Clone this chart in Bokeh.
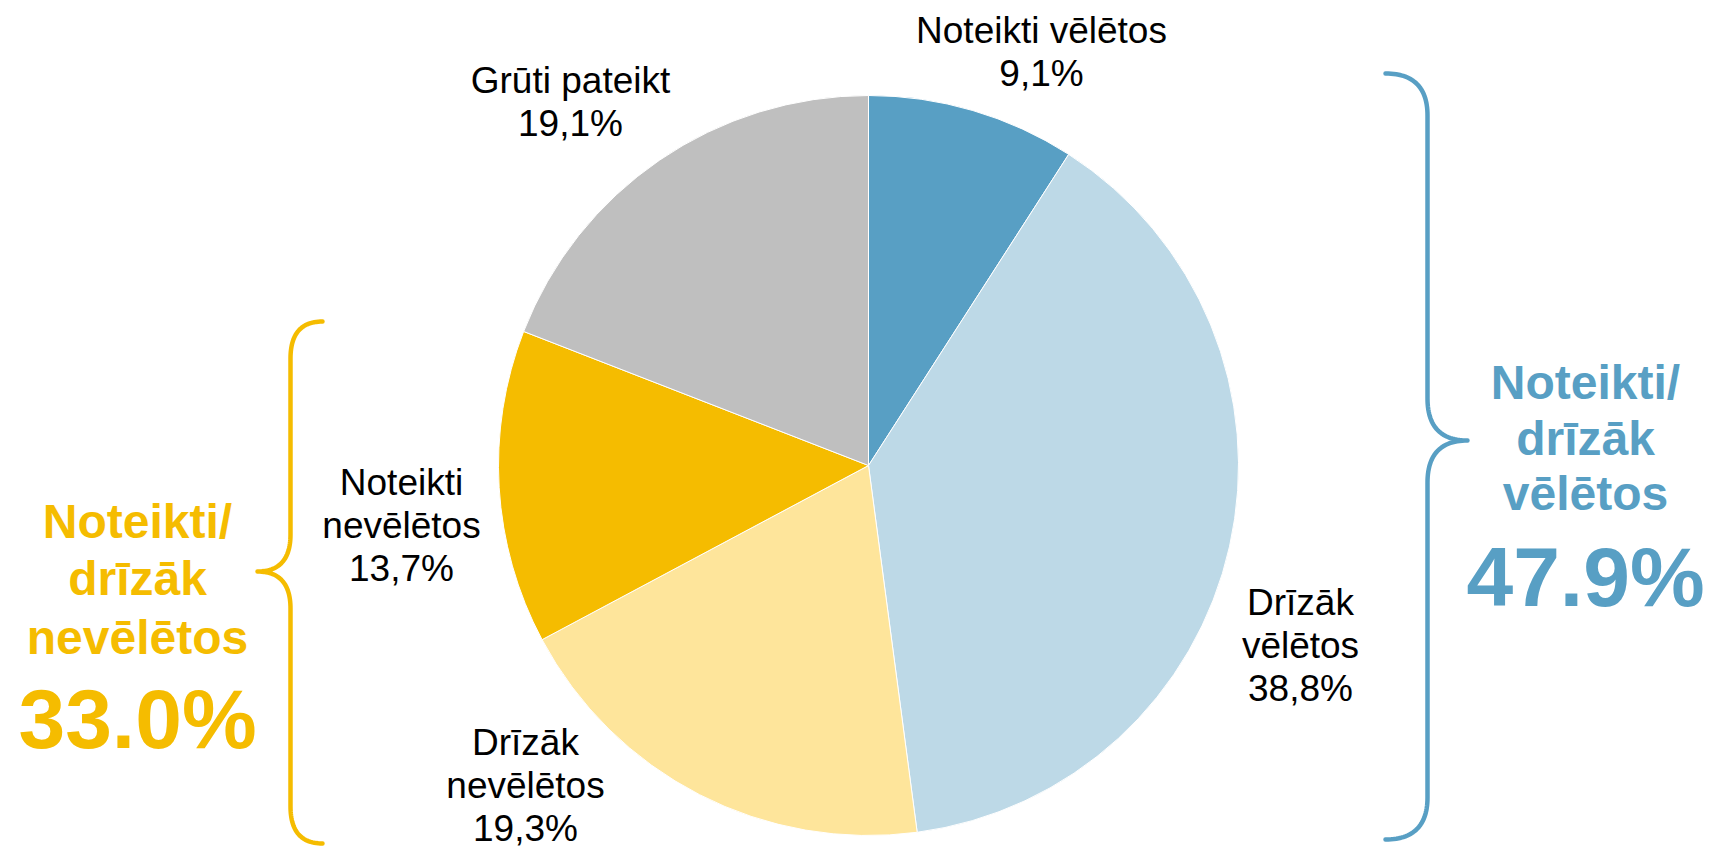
import numpy as np
from bokeh.plotting import figure
from bokeh.models import Range1d, ColumnDataSource
from bokeh.core.properties import value
from bokeh.embed import file_html
from bokeh.resources import INLINE

# ---------------- data ----------------
categories = ["Noteikti vēlētos", "Drīzāk vēlētos", "Drīzāk nevēlētos",
              "Noteikti nevēlētos", "Grūti pateikt"]
values = [9.1, 38.8, 19.3, 13.7, 19.1]
group_want = [0, 1]        # Noteikti/drīzāk vēlētos
group_notwant = [2, 3]     # Noteikti/drīzāk nevēlētos
group_want_title = ["Noteikti/", "drīzāk", "vēlētos"]
group_notwant_title = ["Noteikti/", "drīzāk", "nevēlētos"]

# ---------------- style / layout ----------------
slice_colors = ["#589FC4", "#BDD9E7", "#FEE59B", "#F5BC00", "#BFBFBF"]
BLUE = "#589FC4"
GOLD = "#F5BC00"
FONT = "Liberation Sans"
W, H = 1711, 846
SH = 846  # screen height for coordinate mapping
BL = 0.34  # baseline correction (fraction of font size)


def sy(y):
    return SH - y


p = figure(width=W, height=H, output_backend="svg", toolbar_location=None,
           x_range=Range1d(0, W), y_range=Range1d(sy(H), sy(0)),
           x_axis_type=None, y_axis_type=None, min_border=0,
           outline_line_color=None, background_fill_color="white",
           border_fill_color="white")
p.grid.visible = False

# pie
tot = sum(values)
cum = np.concatenate([[0], np.cumsum(values)]) / tot
starts = np.pi / 2 - cum[:-1] * 2 * np.pi
ends = np.pi / 2 - cum[1:] * 2 * np.pi
src = ColumnDataSource(dict(start=starts, end=ends, color=slice_colors, cat=categories))
CX, CY, R = 868, 465, 370
p.wedge(x=CX, y=sy(CY), radius=R, start_angle="start", end_angle="end",
        direction="clock", fill_color="color", line_color="white", line_width=1,
        source=src)

# slice labels
F1 = 37
label_wrap = [False, True, True, True, False]
label_pos = [(1041, 43), (1300, 615), (525, 755), (401, 495), (570, 93)]
LS = 43
tx, ty, tt = [], [], []
for cat, v, wrap, (x0, y0) in zip(categories, values, label_wrap, label_pos):
    lines = cat.split(" ") if wrap else [cat]
    lines = lines + [f"{v:.1f}".replace(".", ",") + "%"]
    for i, ln in enumerate(lines):
        tx.append(x0)
        ty.append(sy(y0 + i * LS - BL * F1))
        tt.append(ln)
p.text(x=tx, y=ty, text=tt, text_font=value(FONT), text_font_size=value(f"{F1}px"),
       text_align="center", text_baseline="alphabetic", text_color="#000000")


# group labels
F2, F3 = 48, 84


def group_text(title, idx, x0, baselines, color):
    total = sum(values[i] for i in idx)
    p.text(x=[x0] * len(title), y=[sy(b - BL * F2) for b in baselines[:len(title)]],
           text=title, text_font=value(FONT), text_font_size=value(f"{F2}px"),
           text_font_style="bold", text_align="center", text_baseline="alphabetic",
           text_color=color)
    p.text(x=[x0], y=[sy(baselines[-1] - BL * F3)], text=[f"{total:.1f}%"],
           text_font=value(FONT), text_font_size=value(f"{F3}px"), text_font_style="bold",
           text_align="center", text_baseline="alphabetic", text_color=color)


group_text(group_want_title, group_want, 1585, [398, 454, 509, 605], BLUE)
group_text(group_notwant_title, group_notwant, 137, [537, 594, 653, 747], GOLD)


# braces
def qbez(p0, c, p1, n=30):
    t = np.linspace(0, 1, n)[:, None]
    P0, C, P1 = np.array(p0), np.array(c), np.array(p1)
    return (1 - t) ** 2 * P0 + 2 * (1 - t) * t * C + t ** 2 * P1


def brace(xe, xv, xt, ytop, ytip, ybot, rr, color):
    segs = [
        qbez((xe, ytop), (xv, ytop), (xv, ytop + rr)),
        np.array([[xv, ytop + rr], [xv, ytip - rr]]),
        qbez((xv, ytip - rr), (xv, ytip), (xt, ytip)),
        qbez((xt, ytip), (xv, ytip), (xv, ytip + rr)),
        np.array([[xv, ytip + rr], [xv, ybot - rr]]),
        qbez((xv, ybot - rr), (xv, ybot), (xe, ybot)),
    ]
    pts = np.vstack(segs)
    p.line(pts[:, 0], SH - pts[:, 1], line_color=color, line_width=4.5,
           line_join="round", line_cap="round")


brace(1385, 1427, 1467, 73, 440, 839, 42, BLUE)
brace(322, 290, 257, 321, 571, 843, 37, GOLD)

open("out.html", "w").write(file_html(p, INLINE))
